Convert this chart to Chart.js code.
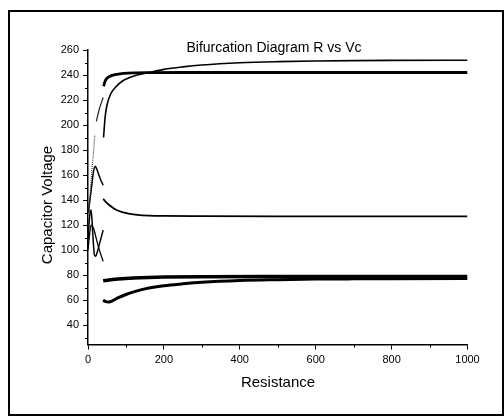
<!DOCTYPE html>
<html>
<head>
<meta charset="utf-8">
<script src="https://cdn.jsdelivr.net/npm/chart.js@4/dist/chart.umd.min.js"></script>
<style>
  html, body { margin: 0; padding: 0; background: #fff; }
  #wrap { width: 504px; height: 416px; position: relative; }
</style>
</head>
<body>
<div id="wrap"><canvas id="c"></canvas></div>
<script>
// resistance / voltage pairs for each branch of the diagram
const rThin = [41, 45, 50, 60, 75, 90, 110, 130, 160, 200, 250, 300, 400, 500, 600, 700, 800, 1000];
const vThin = [190, 206, 216, 225, 231, 235, 238, 240, 242, 244.5, 246.5, 248, 249.8, 250.7, 251.2, 251.5, 251.7, 251.8];

const rTop = [41, 45, 50, 60, 76, 95, 120, 160, 250, 400, 600, 800, 1000];
const vTop = [231, 235, 237.4, 239.3, 240.6, 241.3, 241.7, 241.9, 242, 242, 242, 242, 242];

const rMid = [40, 50, 60, 75, 90, 110, 130, 160, 200, 300, 500, 1000];
const vMid = [141, 137.5, 135, 132, 130.3, 129, 128.2, 127.6, 127.3, 127.1, 127, 127];

const rLow1 = [40, 60, 80, 120, 160, 200, 300, 500, 700, 1000];
const vLow1 = [75.5, 76.2, 76.8, 77.6, 78.1, 78.4, 78.7, 78.8, 78.8, 78.8];

const rLow2 = [40, 45, 55, 65, 80, 100, 125, 150, 200, 250, 300, 400, 500, 600, 700, 800, 1000];
const vLow2 = [60, 59, 58.5, 59.5, 62, 64.5, 67, 69, 71.5, 73, 74.2, 75.6, 76.3, 76.8, 77, 77.1, 77.2];

// small-R region (period doubling mess)
const rDot = [2, 6, 10, 15, 18];
const vDot = [128, 146, 163, 180, 192];
const rPieceA = [22, 30, 40];
const vPieceA = [203, 213, 222];
const rPeak = [1, 5, 10, 14, 19, 24, 30, 35, 40];
const vPeak = [130, 140, 152, 162, 167, 164, 159, 155, 152];
const rLoop = [0, 3, 6, 8, 11, 14, 17, 20, 25, 32, 40];
const vLoop = [108, 122, 131, 132, 122, 106, 96, 95, 99, 107, 116];
const rCross = [0, 4, 8, 15, 22, 30, 40];
const vCross = [100, 112, 120, 117, 109, 100, 91];

const xTicks = [0, 200, 400, 600, 800, 1000];
const yTicks = [40, 60, 80, 100, 120, 140, 160, 180, 200, 220, 240, 260];
const xMinor = [100, 300, 500, 700, 900];
const yMinor = [30, 50, 70, 90, 110, 130, 150, 170, 190, 210, 230, 250];

const pts = (rs, vs) => rs.map((r, i) => ({ x: r, y: vs[i] }));

const FONT = "'Liberation Sans', Arial, sans-serif";

const line = (rs, vs, w, color, dash) => ({
  data: pts(rs, vs),
  showLine: true,
  borderColor: color || '#000',
  borderWidth: w,
  borderDash: dash || [],
  pointRadius: 0,
  cubicInterpolationMode: 'monotone',
  fill: false
});

const extras = {
  id: 'extras',
  afterDraw(chart) {
    const { ctx, chartArea, scales } = chart;
    ctx.save();
    // minor ticks
    ctx.strokeStyle = '#000';
    ctx.lineWidth = 1;
    yMinor.forEach(v => {
      const y = Math.round(scales.y.getPixelForValue(v)) + 0.5;
      ctx.beginPath(); ctx.moveTo(chartArea.left - 3, y); ctx.lineTo(chartArea.left, y); ctx.stroke();
    });
    xMinor.forEach(v => {
      const x = Math.round(scales.x.getPixelForValue(v)) + 0.5;
      ctx.beginPath(); ctx.moveTo(x, chartArea.bottom); ctx.lineTo(x, chartArea.bottom + 3); ctx.stroke();
    });
    // titles
    ctx.fillStyle = '#000';
    ctx.textAlign = 'center';
    ctx.textBaseline = 'alphabetic';
    ctx.font = '14px ' + FONT;
    ctx.fillText('Bifurcation Diagram R vs Vc', 274, 52);
    ctx.font = '15px ' + FONT;
    ctx.fillText('Resistance', 278, 387);
    ctx.translate(52, 205);
    ctx.rotate(-Math.PI / 2);
    ctx.fillText('Capacitor Voltage', 0, 0);
    ctx.restore();
    // frame
    ctx.save();
    ctx.strokeStyle = '#000';
    ctx.lineWidth = 2;
    ctx.strokeRect(9, 11, 494, 404);
    ctx.restore();
  }
};

new Chart(document.getElementById('c'), {
  type: 'scatter',
  data: {
    datasets: [
      line(rThin, vThin, 1.6),
      line(rTop, vTop, 2.8),
      line(rMid, vMid, 1.8),
      line(rLow1, vLow1, 3.5),
      line(rLow2, vLow2, 3),
      line(rDot, vDot, 1.2, '#444', [1, 1]),
      line(rPieceA, vPieceA, 1.2, '#222'),
      line(rPeak, vPeak, 1.5),
      line(rLoop, vLoop, 1.5),
      line(rCross, vCross, 1.3)
    ]
  },
  options: {
    responsive: true,
    maintainAspectRatio: false,
    animation: false,
    layout: { padding: { top: 50, right: 36.5, left: 0, bottom: 0 } },
    plugins: {
      legend: { display: false },
      tooltip: { enabled: false }
    },
    scales: {
      x: {
        type: 'linear',
        min: 0,
        max: 1000,
        afterBuildTicks: s => { s.ticks = xTicks.map(v => ({ value: v })); },
        afterFit: s => { s.height = 71.5; },
        border: { color: '#000', width: 1.5 },
        grid: { drawOnChartArea: false, tickLength: 5, tickColor: '#000', tickWidth: 1 },
        ticks: { color: '#000', font: { family: FONT, size: 11 }, padding: 4, maxRotation: 0, callback: v => String(v) }
      },
      y: {
        type: 'linear',
        min: 24.5,
        max: 260,
        afterBuildTicks: s => { s.ticks = yTicks.map(v => ({ value: v })); },
        afterFit: s => { s.width = 88; },
        border: { color: '#000', width: 1.5 },
        grid: { drawOnChartArea: false, tickLength: 5, tickColor: '#000', tickWidth: 1 },
        ticks: { color: '#000', font: { family: FONT, size: 11 }, padding: 4, callback: v => String(v) }
      }
    }
  },
  plugins: [extras]
});
</script>
</body>
</html>
